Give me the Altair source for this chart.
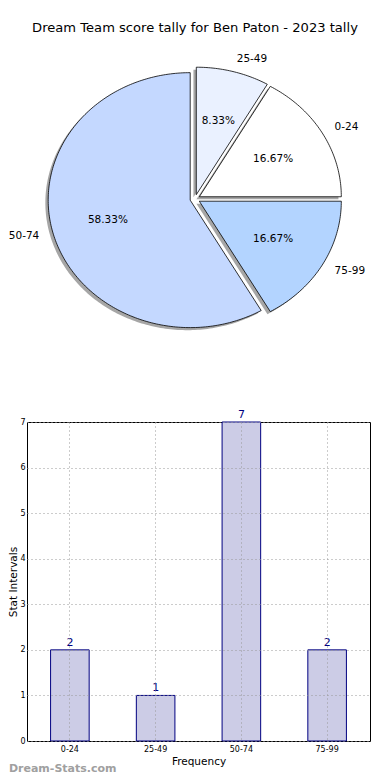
import altair as alt
import pandas as pd
import numpy as np

categories = ["0-24", "25-49", "50-74", "75-99"]
counts = [2, 1, 7, 2]
slice_colors = ["#ffffff", "#eaf1ff", "#c4d8ff", "#b3d4ff"]
title_text = "Dream Team score tally for Ben Paton - 2023 tally"
y_ticks = [0, 1, 2, 3, 4, 5, 6, 7]
watermark = "Dream-Stats.com"

FONT = "DejaVu Sans"
EXPLODE = 0.035
total = sum(counts)

# pie geometry (matplotlib convention: start at 0 deg, counter-clockwise)
poly_rows = []
label_rows = []
start = 0.0
for cat, v in zip(categories, counts):
    span = 360.0 * v / total
    t1, t2 = start, start + span
    mid = np.deg2rad((t1 + t2) / 2)
    cx, cy = EXPLODE * np.cos(mid), EXPLODE * np.sin(mid)
    angs = np.linspace(t1, t2, int(span) + 2)
    pts = [(cx, cy)] + [(cx + np.cos(np.deg2rad(a)), cy + np.sin(np.deg2rad(a))) for a in angs] + [(cx, cy)]
    for k, (px, py) in enumerate(pts):
        poly_rows.append({"cat": cat, "k": k, "px": px, "py": py})
    label_rows.append({
        "cat": cat,
        "pct": f"{100.0 * v / total:.2f}%",
        "lx": cx + 1.1 * np.cos(mid), "ly": cy + 1.1 * np.sin(mid),
        "tx": cx + 0.6 * np.cos(mid), "ty": cy + 0.6 * np.sin(mid),
        "side": "right" if np.cos(mid) > 0 else "left",
    })
    start = t2

poly = pd.DataFrame(poly_rows)
labs = pd.DataFrame(label_rows)

PW, PH = 336, 348
xs = alt.Scale(domain=[-1.183, 1.183], nice=False, zero=False)
ys = alt.Scale(domain=[-1.522, 1.208], nice=False, zero=False)

shadow = alt.Chart(poly).transform_calculate(
    sx="datum.px - 0.02", sy="datum.py - 0.02"
).mark_line(fill="#4d4d4d", fillOpacity=0.5, strokeOpacity=0, interpolate="linear").encode(
    x=alt.X("sx:Q", scale=xs, axis=None),
    y=alt.Y("sy:Q", scale=ys, axis=None),
    detail="cat:N",
    order="k:Q",
)

slice_layers = []
for cat, col in zip(categories, slice_colors):
    slice_layers.append(
        alt.Chart(poly).transform_filter(alt.datum.cat == cat).mark_line(
            fill=col, stroke="black", strokeWidth=0.8, interpolate="linear"
        ).encode(
            x=alt.X("px:Q", scale=xs, axis=None),
            y=alt.Y("py:Q", scale=ys, axis=None),
            order="k:Q",
        )
    )

LFS = 10.5
lab_right = alt.Chart(labs).transform_filter(alt.datum.side == "right").mark_text(
    align="left", baseline="middle", font=FONT, fontSize=LFS, color="black"
).encode(x=alt.X("lx:Q", scale=xs, axis=None), y=alt.Y("ly:Q", scale=ys, axis=None), text="cat:N")
lab_left = alt.Chart(labs).transform_filter(alt.datum.side == "left").mark_text(
    align="right", baseline="middle", font=FONT, fontSize=LFS, color="black"
).encode(x=alt.X("lx:Q", scale=xs, axis=None), y=alt.Y("ly:Q", scale=ys, axis=None), text="cat:N")
pct = alt.Chart(labs).mark_text(
    align="center", baseline="middle", font=FONT, fontSize=LFS, color="black"
).encode(x=alt.X("tx:Q", scale=xs, axis=None), y=alt.Y("ty:Q", scale=ys, axis=None), text="pct:N")

pie = alt.layer(shadow, *slice_layers, lab_right, lab_left, pct).properties(
    width=PW, height=PH,
    title=alt.TitleParams(text=title_text, font=FONT, fontSize=13.1, fontWeight="normal",
                          color="black", anchor="middle", offset=9.5),
    view=alt.ViewBackground(stroke="transparent"),
)

bar_df = pd.DataFrame({"cat": categories, "count": counts})
base = alt.Chart(bar_df).encode(
    x=alt.X("cat:N", sort=categories,
            scale=alt.Scale(paddingInner=0.55, paddingOuter=0.275),
            axis=alt.Axis(title="Frequency", labelAngle=0, labelFont=FONT, labelFontSize=8,
                          labelColor="black", titleFont=FONT, titleFontSize=10.5,
                          titleFontWeight="normal", titleColor="black", grid=True,
                          gridDash=[1, 3], gridColor="#999999", gridWidth=1, ticks=False,
                          domain=False, labelPadding=4, titlePadding=3, bandPosition=0.5,
                          zindex=1)),
    y=alt.Y("count:Q", scale=alt.Scale(domain=[0, 7], nice=False),
            axis=alt.Axis(values=y_ticks, title="Stat Intervals", labelFont=FONT, labelFontSize=8,
                          labelColor="black", titleFont=FONT, titleFontSize=10.5,
                          titleFontWeight="normal", titleColor="black", grid=True,
                          gridDash=[1, 3], gridColor="#999999", gridWidth=1, ticks=False,
                          domain=False, labelPadding=2, titlePadding=1, zindex=1)),
)
bars = base.mark_bar(fill="#ccccE6", stroke="#000080", strokeWidth=1)
vals = base.mark_text(baseline="bottom", dy=-2, font=FONT, fontSize=11, color="#000080").encode(
    text="count:Q")

bar = alt.layer(bars, vals).properties(
    width=343, height=319,
    title=alt.TitleParams(text=watermark, orient="bottom", anchor="start", frame="bounds",
                          font=FONT, fontSize=11, fontWeight="bold", color="#a0a0a0", offset=-4),
    view=alt.ViewBackground(stroke="black", strokeWidth=1),
)

chart = alt.vconcat(pie, bar, spacing=14).properties(
    padding={"left": 0, "top": 13, "right": 0, "bottom": 0}
).configure(font=FONT)

chart.save("out.html", embed_options={"renderer": "svg", "actions": False})
